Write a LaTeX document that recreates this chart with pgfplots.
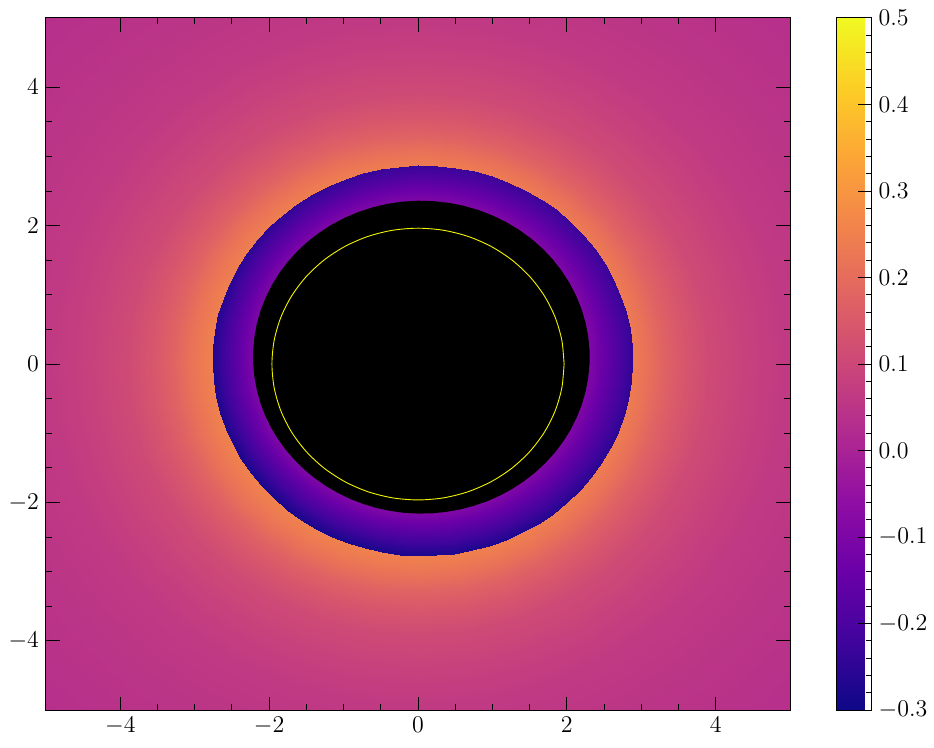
\documentclass[border=0pt]{standalone}
\usepackage{pgfplots}
\pgfplotsset{compat=1.18}
\begin{document}
\begin{tikzpicture}
\begin{axis}[
  name=main,
  scale only axis, width=372.5pt, height=346.5pt,
  xmin=-5, xmax=5, ymin=-5, ymax=5,
  xtick={-4,-2,0,2,4}, ytick={-4,-2,0,2,4},
  minor x tick num=3, minor y tick num=3,
  tick align=inside, xtick pos=both, ytick pos=both,
  major tick length=6.8pt, minor tick length=3pt,
  every tick/.style={black, line width=0.5pt},
  axis line style={line width=0.5pt},
  tick label style={font=\fontsize{12.3}{14}\selectfont},
  axis on top,
  colormap={plasma}{rgb255=(13,8,135) rgb255=(65,4,157) rgb255=(106,0,168) rgb255=(143,13,164) rgb255=(177,42,144) rgb255=(204,71,120) rgb255=(225,100,98) rgb255=(242,132,75) rgb255=(252,166,54) rgb255=(252,206,37) rgb255=(240,249,33)},
  point meta min=-0.3, point meta max=0.5,
  colorbar,
  colorbar style={
    at={(parent axis.north east)}, anchor=north west, xshift=14.5pt,
    scale only axis, width=17.8pt, height=346.5pt,
    ytick={-0.3,-0.2,-0.1,0,0.1,0.2,0.3,0.4,0.5}, minor y tick num=4,
    ytick pos=right, yticklabel pos=right, tick align=inside,
    major tick length=7pt, minor tick length=2.8pt,
    every tick/.style={black, line width=0.5pt},
    axis line style={line width=0.5pt},
    tick label style={font=\fontsize{12.3}{14}\selectfont},
    yticklabel style={/pgf/number format/.cd, fixed, fixed zerofill, precision=1},
  },
]
% background glow (polar: angle, radius)
\addplot[surf, shader=interp, mesh/rows=37, mesh/cols=10, point meta=explicit, data cs=polar] coordinates {
(0,2.7)[0.26] (0,2.9)[0.237] (0,3.1)[0.21] (0,3.3)[0.175] (0,3.6)[0.14] (0,3.9)[0.11] (0,4.4)[0.085] (0,5)[0.062] (0,6)[0.047] (0,7.3)[0.033]
(10,2.7)[0.26] (10,2.9)[0.237] (10,3.1)[0.21] (10,3.3)[0.175] (10,3.6)[0.14] (10,3.9)[0.11] (10,4.4)[0.085] (10,5)[0.062] (10,6)[0.047] (10,7.3)[0.033]
(20,2.7)[0.26] (20,2.9)[0.237] (20,3.1)[0.21] (20,3.3)[0.175] (20,3.6)[0.14] (20,3.9)[0.11] (20,4.4)[0.085] (20,5)[0.062] (20,6)[0.047] (20,7.3)[0.033]
(30,2.7)[0.26] (30,2.9)[0.237] (30,3.1)[0.21] (30,3.3)[0.175] (30,3.6)[0.14] (30,3.9)[0.11] (30,4.4)[0.085] (30,5)[0.062] (30,6)[0.047] (30,7.3)[0.033]
(40,2.7)[0.26] (40,2.9)[0.237] (40,3.1)[0.21] (40,3.3)[0.175] (40,3.6)[0.14] (40,3.9)[0.11] (40,4.4)[0.085] (40,5)[0.062] (40,6)[0.047] (40,7.3)[0.033]
(50,2.7)[0.26] (50,2.9)[0.237] (50,3.1)[0.21] (50,3.3)[0.175] (50,3.6)[0.14] (50,3.9)[0.11] (50,4.4)[0.085] (50,5)[0.062] (50,6)[0.047] (50,7.3)[0.033]
(60,2.7)[0.26] (60,2.9)[0.237] (60,3.1)[0.21] (60,3.3)[0.175] (60,3.6)[0.14] (60,3.9)[0.11] (60,4.4)[0.085] (60,5)[0.062] (60,6)[0.047] (60,7.3)[0.033]
(70,2.7)[0.26] (70,2.9)[0.237] (70,3.1)[0.21] (70,3.3)[0.175] (70,3.6)[0.14] (70,3.9)[0.11] (70,4.4)[0.085] (70,5)[0.062] (70,6)[0.047] (70,7.3)[0.033]
(80,2.7)[0.26] (80,2.9)[0.237] (80,3.1)[0.21] (80,3.3)[0.175] (80,3.6)[0.14] (80,3.9)[0.11] (80,4.4)[0.085] (80,5)[0.062] (80,6)[0.047] (80,7.3)[0.033]
(90,2.7)[0.26] (90,2.9)[0.237] (90,3.1)[0.21] (90,3.3)[0.175] (90,3.6)[0.14] (90,3.9)[0.11] (90,4.4)[0.085] (90,5)[0.062] (90,6)[0.047] (90,7.3)[0.033]
(100,2.7)[0.26] (100,2.9)[0.237] (100,3.1)[0.21] (100,3.3)[0.175] (100,3.6)[0.14] (100,3.9)[0.11] (100,4.4)[0.085] (100,5)[0.062] (100,6)[0.047] (100,7.3)[0.033]
(110,2.7)[0.26] (110,2.9)[0.237] (110,3.1)[0.21] (110,3.3)[0.175] (110,3.6)[0.14] (110,3.9)[0.11] (110,4.4)[0.085] (110,5)[0.062] (110,6)[0.047] (110,7.3)[0.033]
(120,2.7)[0.26] (120,2.9)[0.237] (120,3.1)[0.21] (120,3.3)[0.175] (120,3.6)[0.14] (120,3.9)[0.11] (120,4.4)[0.085] (120,5)[0.062] (120,6)[0.047] (120,7.3)[0.033]
(130,2.7)[0.26] (130,2.9)[0.237] (130,3.1)[0.21] (130,3.3)[0.175] (130,3.6)[0.14] (130,3.9)[0.11] (130,4.4)[0.085] (130,5)[0.062] (130,6)[0.047] (130,7.3)[0.033]
(140,2.7)[0.26] (140,2.9)[0.237] (140,3.1)[0.21] (140,3.3)[0.175] (140,3.6)[0.14] (140,3.9)[0.11] (140,4.4)[0.085] (140,5)[0.062] (140,6)[0.047] (140,7.3)[0.033]
(150,2.7)[0.26] (150,2.9)[0.237] (150,3.1)[0.21] (150,3.3)[0.175] (150,3.6)[0.14] (150,3.9)[0.11] (150,4.4)[0.085] (150,5)[0.062] (150,6)[0.047] (150,7.3)[0.033]
(160,2.7)[0.26] (160,2.9)[0.237] (160,3.1)[0.21] (160,3.3)[0.175] (160,3.6)[0.14] (160,3.9)[0.11] (160,4.4)[0.085] (160,5)[0.062] (160,6)[0.047] (160,7.3)[0.033]
(170,2.7)[0.26] (170,2.9)[0.237] (170,3.1)[0.21] (170,3.3)[0.175] (170,3.6)[0.14] (170,3.9)[0.11] (170,4.4)[0.085] (170,5)[0.062] (170,6)[0.047] (170,7.3)[0.033]
(180,2.7)[0.26] (180,2.9)[0.237] (180,3.1)[0.21] (180,3.3)[0.175] (180,3.6)[0.14] (180,3.9)[0.11] (180,4.4)[0.085] (180,5)[0.062] (180,6)[0.047] (180,7.3)[0.033]
(190,2.7)[0.26] (190,2.9)[0.237] (190,3.1)[0.21] (190,3.3)[0.175] (190,3.6)[0.14] (190,3.9)[0.11] (190,4.4)[0.085] (190,5)[0.062] (190,6)[0.047] (190,7.3)[0.033]
(200,2.7)[0.26] (200,2.9)[0.237] (200,3.1)[0.21] (200,3.3)[0.175] (200,3.6)[0.14] (200,3.9)[0.11] (200,4.4)[0.085] (200,5)[0.062] (200,6)[0.047] (200,7.3)[0.033]
(210,2.7)[0.26] (210,2.9)[0.237] (210,3.1)[0.21] (210,3.3)[0.175] (210,3.6)[0.14] (210,3.9)[0.11] (210,4.4)[0.085] (210,5)[0.062] (210,6)[0.047] (210,7.3)[0.033]
(220,2.7)[0.26] (220,2.9)[0.237] (220,3.1)[0.21] (220,3.3)[0.175] (220,3.6)[0.14] (220,3.9)[0.11] (220,4.4)[0.085] (220,5)[0.062] (220,6)[0.047] (220,7.3)[0.033]
(230,2.7)[0.26] (230,2.9)[0.237] (230,3.1)[0.21] (230,3.3)[0.175] (230,3.6)[0.14] (230,3.9)[0.11] (230,4.4)[0.085] (230,5)[0.062] (230,6)[0.047] (230,7.3)[0.033]
(240,2.7)[0.26] (240,2.9)[0.237] (240,3.1)[0.21] (240,3.3)[0.175] (240,3.6)[0.14] (240,3.9)[0.11] (240,4.4)[0.085] (240,5)[0.062] (240,6)[0.047] (240,7.3)[0.033]
(250,2.7)[0.26] (250,2.9)[0.237] (250,3.1)[0.21] (250,3.3)[0.175] (250,3.6)[0.14] (250,3.9)[0.11] (250,4.4)[0.085] (250,5)[0.062] (250,6)[0.047] (250,7.3)[0.033]
(260,2.7)[0.26] (260,2.9)[0.237] (260,3.1)[0.21] (260,3.3)[0.175] (260,3.6)[0.14] (260,3.9)[0.11] (260,4.4)[0.085] (260,5)[0.062] (260,6)[0.047] (260,7.3)[0.033]
(270,2.7)[0.26] (270,2.9)[0.237] (270,3.1)[0.21] (270,3.3)[0.175] (270,3.6)[0.14] (270,3.9)[0.11] (270,4.4)[0.085] (270,5)[0.062] (270,6)[0.047] (270,7.3)[0.033]
(280,2.7)[0.26] (280,2.9)[0.237] (280,3.1)[0.21] (280,3.3)[0.175] (280,3.6)[0.14] (280,3.9)[0.11] (280,4.4)[0.085] (280,5)[0.062] (280,6)[0.047] (280,7.3)[0.033]
(290,2.7)[0.26] (290,2.9)[0.237] (290,3.1)[0.21] (290,3.3)[0.175] (290,3.6)[0.14] (290,3.9)[0.11] (290,4.4)[0.085] (290,5)[0.062] (290,6)[0.047] (290,7.3)[0.033]
(300,2.7)[0.26] (300,2.9)[0.237] (300,3.1)[0.21] (300,3.3)[0.175] (300,3.6)[0.14] (300,3.9)[0.11] (300,4.4)[0.085] (300,5)[0.062] (300,6)[0.047] (300,7.3)[0.033]
(310,2.7)[0.26] (310,2.9)[0.237] (310,3.1)[0.21] (310,3.3)[0.175] (310,3.6)[0.14] (310,3.9)[0.11] (310,4.4)[0.085] (310,5)[0.062] (310,6)[0.047] (310,7.3)[0.033]
(320,2.7)[0.26] (320,2.9)[0.237] (320,3.1)[0.21] (320,3.3)[0.175] (320,3.6)[0.14] (320,3.9)[0.11] (320,4.4)[0.085] (320,5)[0.062] (320,6)[0.047] (320,7.3)[0.033]
(330,2.7)[0.26] (330,2.9)[0.237] (330,3.1)[0.21] (330,3.3)[0.175] (330,3.6)[0.14] (330,3.9)[0.11] (330,4.4)[0.085] (330,5)[0.062] (330,6)[0.047] (330,7.3)[0.033]
(340,2.7)[0.26] (340,2.9)[0.237] (340,3.1)[0.21] (340,3.3)[0.175] (340,3.6)[0.14] (340,3.9)[0.11] (340,4.4)[0.085] (340,5)[0.062] (340,6)[0.047] (340,7.3)[0.033]
(350,2.7)[0.26] (350,2.9)[0.237] (350,3.1)[0.21] (350,3.3)[0.175] (350,3.6)[0.14] (350,3.9)[0.11] (350,4.4)[0.085] (350,5)[0.062] (350,6)[0.047] (350,7.3)[0.033]
(360,2.7)[0.26] (360,2.9)[0.237] (360,3.1)[0.21] (360,3.3)[0.175] (360,3.6)[0.14] (360,3.9)[0.11] (360,4.4)[0.085] (360,5)[0.062] (360,6)[0.047] (360,7.3)[0.033]
};
% shadow ring (angle, radius) [value]
\addplot[surf, shader=interp, mesh/rows=73, mesh/cols=2, point meta=explicit, data cs=polar] coordinates {
(0,2.285)[-0.09] (0,2.88)[-0.245]
(5,2.294)[-0.09] (5,2.884)[-0.243]
(10,2.302)[-0.09] (10,2.888)[-0.241]
(15,2.310)[-0.09] (15,2.891)[-0.240]
(20,2.317)[-0.09] (20,2.894)[-0.238]
(25,2.323)[-0.09] (25,2.896)[-0.237]
(30,2.329)[-0.09] (30,2.897)[-0.235]
(35,2.334)[-0.09] (35,2.898)[-0.234]
(40,2.339)[-0.09] (40,2.898)[-0.233]
(45,2.343)[-0.09] (45,2.898)[-0.233]
(50,2.346)[-0.09] (50,2.897)[-0.232]
(55,2.348)[-0.09] (55,2.895)[-0.232]
(60,2.349)[-0.09] (60,2.893)[-0.232]
(65,2.349)[-0.09] (65,2.891)[-0.232]
(70,2.349)[-0.09] (70,2.888)[-0.232]
(75,2.348)[-0.09] (75,2.884)[-0.233]
(80,2.346)[-0.09] (80,2.880)[-0.233]
(85,2.343)[-0.09] (85,2.875)[-0.234]
(90,2.34)[-0.09] (90,2.87)[-0.235]
(95,2.336)[-0.09] (95,2.865)[-0.237]
(100,2.331)[-0.09] (100,2.859)[-0.238]
(105,2.325)[-0.09] (105,2.853)[-0.240]
(110,2.319)[-0.09] (110,2.847)[-0.241]
(115,2.312)[-0.09] (115,2.840)[-0.243]
(120,2.304)[-0.09] (120,2.833)[-0.244]
(125,2.296)[-0.09] (125,2.827)[-0.246]
(130,2.288)[-0.09] (130,2.820)[-0.248]
(135,2.279)[-0.09] (135,2.813)[-0.251]
(140,2.270)[-0.09] (140,2.806)[-0.253]
(145,2.261)[-0.09] (145,2.800)[-0.255]
(150,2.251)[-0.09] (150,2.793)[-0.257]
(155,2.242)[-0.09] (155,2.787)[-0.260]
(160,2.232)[-0.09] (160,2.781)[-0.262]
(165,2.223)[-0.09] (165,2.776)[-0.264]
(170,2.213)[-0.09] (170,2.770)[-0.266]
(175,2.204)[-0.09] (175,2.765)[-0.268]
(180,2.195)[-0.09] (180,2.76)[-0.270]
(185,2.187)[-0.089] (185,2.756)[-0.272]
(190,2.178)[-0.088] (190,2.752)[-0.274]
(195,2.171)[-0.088] (195,2.749)[-0.276]
(200,2.164)[-0.088] (200,2.746)[-0.277]
(205,2.158)[-0.088] (205,2.745)[-0.278]
(210,2.151)[-0.088] (210,2.743)[-0.279]
(215,2.146)[-0.088] (215,2.743)[-0.281]
(220,2.141)[-0.087] (220,2.742)[-0.282]
(225,2.138)[-0.087] (225,2.743)[-0.283]
(230,2.135)[-0.087] (230,2.743)[-0.283]
(235,2.133)[-0.087] (235,2.745)[-0.283]
(240,2.131)[-0.087] (240,2.747)[-0.283]
(245,2.131)[-0.087] (245,2.750)[-0.283]
(250,2.131)[-0.087] (250,2.752)[-0.283]
(255,2.133)[-0.087] (255,2.756)[-0.283]
(260,2.134)[-0.087] (260,2.760)[-0.282]
(265,2.137)[-0.087] (265,2.765)[-0.281]
(270,2.14)[-0.087] (270,2.77)[-0.280]
(275,2.145)[-0.087] (275,2.776)[-0.279]
(280,2.149)[-0.087] (280,2.781)[-0.278]
(285,2.155)[-0.087] (285,2.787)[-0.276]
(290,2.161)[-0.087] (290,2.793)[-0.274]
(295,2.169)[-0.088] (295,2.800)[-0.273]
(300,2.176)[-0.088] (300,2.807)[-0.271]
(305,2.184)[-0.088] (305,2.814)[-0.269]
(310,2.192)[-0.088] (310,2.820)[-0.267]
(315,2.201)[-0.088] (315,2.827)[-0.265]
(320,2.210)[-0.088] (320,2.834)[-0.262]
(325,2.220)[-0.089] (325,2.841)[-0.260]
(330,2.229)[-0.089] (330,2.847)[-0.258]
(335,2.239)[-0.09] (335,2.853)[-0.256]
(340,2.248)[-0.09] (340,2.859)[-0.253]
(345,2.258)[-0.09] (345,2.865)[-0.251]
(350,2.267)[-0.09] (350,2.870)[-0.249]
(355,2.276)[-0.09] (355,2.875)[-0.247]
(360,2.285)[-0.09] (360,2.88)[-0.245]
};
% black shadow
\addplot[draw=none, fill=black, data cs=polar] coordinates {
(0,2.305) (5,2.314) (10,2.322) (15,2.330) (20,2.337) (25,2.343) (30,2.349) (35,2.354) (40,2.359) (45,2.363)
(50,2.366) (55,2.368) (60,2.369) (65,2.369) (70,2.369) (75,2.368) (80,2.366) (85,2.363) (90,2.36) (95,2.356)
(100,2.351) (105,2.345) (110,2.339) (115,2.332) (120,2.324) (125,2.316) (130,2.308) (135,2.299) (140,2.29) (145,2.281)
(150,2.271) (155,2.262) (160,2.252) (165,2.243) (170,2.233) (175,2.224) (180,2.215) (185,2.207) (190,2.198) (195,2.191)
(200,2.184) (205,2.178) (210,2.171) (215,2.166) (220,2.161) (225,2.158) (230,2.155) (235,2.153) (240,2.151) (245,2.151)
(250,2.151) (255,2.153) (260,2.154) (265,2.157) (270,2.16) (275,2.165) (280,2.169) (285,2.175) (290,2.181) (295,2.189)
(300,2.196) (305,2.204) (310,2.212) (315,2.221) (320,2.23) (325,2.240) (330,2.249) (335,2.259) (340,2.268) (345,2.278)
(350,2.287) (355,2.296) (360,2.305)
};
% photon ring contour
\addplot[smooth, draw={rgb,255:red,245;green,245;blue,0}, line width=0.45pt, data cs=polar] coordinates {
(0,1.963) (10,1.963) (20,1.963) (30,1.963) (40,1.963) (50,1.963) (60,1.963) (70,1.963) (80,1.963) (90,1.963)
(100,1.963) (110,1.963) (120,1.963) (130,1.963) (140,1.963) (150,1.963) (160,1.963) (170,1.963) (180,1.963)
(190,1.963) (200,1.963) (210,1.963) (220,1.963) (230,1.963) (240,1.963) (250,1.963) (260,1.963) (270,1.963)
(280,1.963) (290,1.963) (300,1.963) (310,1.963) (320,1.963) (330,1.963) (340,1.963) (350,1.963) (360,1.963)
};
\end{axis}
\path ([shift={(-23pt,-18.5pt)}]main.south west) rectangle ([shift={(72pt,9pt)}]main.north east);
\end{tikzpicture}
\end{document}
